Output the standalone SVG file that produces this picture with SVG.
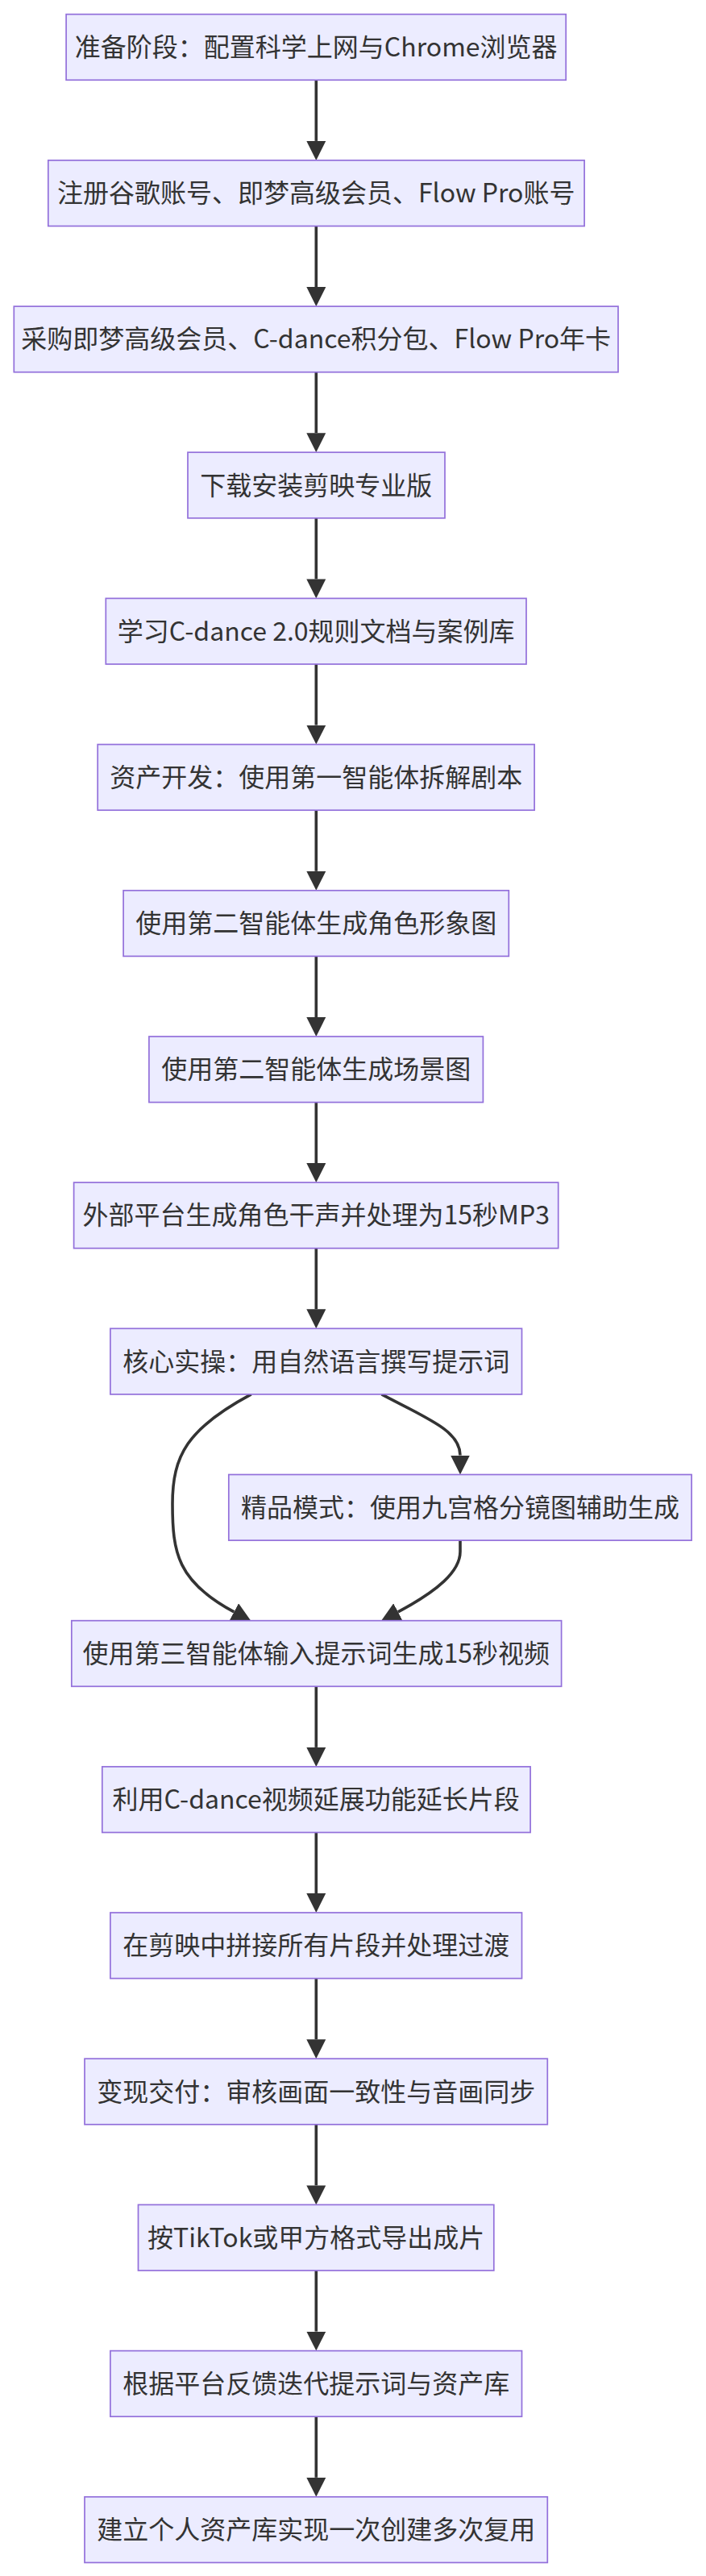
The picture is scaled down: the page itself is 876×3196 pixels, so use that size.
<svg xmlns="http://www.w3.org/2000/svg" width="876" height="3196" viewBox="0 0 876 3196">
<style>
.node rect{fill:#ECECFF;stroke:#9370DB;stroke-width:1.7}
.node text{font-family:"Noto Sans CJK SC","Noto Sans",sans-serif;font-size:32px;fill:#333333;text-anchor:middle}
.edge{fill:none;stroke:#333333;stroke-width:3.6;marker-end:url(#arr)}
</style>
<defs>
<marker id="arr" viewBox="0 0 10 10" refX="0" refY="5" markerWidth="24" markerHeight="24" markerUnits="userSpaceOnUse" orient="auto">
<path d="M0,0 L10,5 L0,10 z" fill="#333333"/>
</marker>
</defs>
<rect width="876" height="3196" fill="#ffffff"/>
<g id="connectors">
<path class="edge" d="M392.3,99.3 V174.9"/>
<path class="edge" d="M392.3,280.5 V356.1"/>
<path class="edge" d="M392.3,461.7 V537.2"/>
<path class="edge" d="M392.3,642.8 V718.4"/>
<path class="edge" d="M392.3,824 V899.6"/>
<path class="edge" d="M392.3,1005.2 V1080.8"/>
<path class="edge" d="M392.3,1186.4 V1262"/>
<path class="edge" d="M392.3,1367.6 V1443.1"/>
<path class="edge" d="M392.3,1548.7 V1624.3"/>
<path class="edge" d="M311.7,1729.9 C232.5,1772.3 214,1806 214,1866 C214,1926 220,1962.3 290.4,1999.9"/>
<path class="edge" d="M473.5,1729.9 C530,1760 571,1775 571,1805.5"/>
<path class="edge" d="M571,1911.1 L571,1925 C571,1950 542.3,1974 493.9,1999.9"/>
<path class="edge" d="M392.3,2092.3 V2167.9"/>
<path class="edge" d="M392.3,2273.5 V2349"/>
<path class="edge" d="M392.3,2454.6 V2530.2"/>
<path class="edge" d="M392.3,2635.8 V2711.4"/>
<path class="edge" d="M392.3,2817 V2892.6"/>
<path class="edge" d="M392.3,2998.2 V3073.8"/>
</g>
<g id="n1" class="node"><rect x="82.1" y="17.7" width="620.1" height="81.6"/><text x="392.2" y="70">准备阶段：配置科学上网与Chrome浏览器</text></g>
<g id="n2" class="node"><rect x="59.8" y="198.9" width="665.3" height="81.6"/><text x="392.2" y="251.2">注册谷歌账号、即梦高级会员、Flow Pro账号</text></g>
<g id="n3" class="node"><rect x="17.3" y="380.1" width="749.7" height="81.6"/><text x="392.2" y="432.4">采购即梦高级会员、C-dance积分包、Flow Pro年卡</text></g>
<g id="n4" class="node"><rect x="233" y="561.2" width="319" height="81.6"/><text x="392.2" y="613.5">下载安装剪映专业版</text></g>
<g id="n5" class="node"><rect x="131.3" y="742.4" width="521.7" height="81.6"/><text x="392.2" y="794.7">学习C-dance 2.0规则文档与案例库</text></g>
<g id="n6" class="node"><rect x="121.2" y="923.6" width="541.9" height="81.6"/><text x="392.2" y="975.9">资产开发：使用第一智能体拆解剧本</text></g>
<g id="n7" class="node"><rect x="153.1" y="1104.8" width="478.2" height="81.6"/><text x="392.2" y="1157.1">使用第二智能体生成角色形象图</text></g>
<g id="n8" class="node"><rect x="184.9" y="1286" width="414.5" height="81.6"/><text x="392.2" y="1338.3">使用第二智能体生成场景图</text></g>
<g id="n9" class="node"><rect x="91.6" y="1467.1" width="601.1" height="81.6"/><text x="392.2" y="1519.4">外部平台生成角色干声并处理为15秒MP3</text></g>
<g id="n10" class="node"><rect x="136.9" y="1648.3" width="510.6" height="81.6"/><text x="392.2" y="1700.6">核心实操：用自然语言撰写提示词</text></g>
<g id="n11" class="node"><rect x="283.8" y="1829.5" width="574.3" height="81.6"/><text x="571" y="1881.8">精品模式：使用九宫格分镜图辅助生成</text></g>
<g id="n12" class="node"><rect x="88.8" y="2010.7" width="607.8" height="81.6"/><text x="392.2" y="2063">使用第三智能体输入提示词生成15秒视频</text></g>
<g id="n13" class="node"><rect x="126.8" y="2191.9" width="531.3" height="81.6"/><text x="392.2" y="2244.2">利用C-dance视频延展功能延长片段</text></g>
<g id="n14" class="node"><rect x="136.9" y="2373" width="510.6" height="81.6"/><text x="392.2" y="2425.3">在剪映中拼接所有片段并处理过渡</text></g>
<g id="n15" class="node"><rect x="105" y="2554.2" width="574.3" height="81.6"/><text x="392.2" y="2606.5">变现交付：审核画面一致性与音画同步</text></g>
<g id="n16" class="node"><rect x="171.5" y="2735.4" width="441.3" height="81.6"/><text x="392.2" y="2787.7">按TikTok或甲方格式导出成片</text></g>
<g id="n17" class="node"><rect x="136.9" y="2916.6" width="510.6" height="81.6"/><text x="392.2" y="2968.9">根据平台反馈迭代提示词与资产库</text></g>
<g id="n18" class="node"><rect x="105" y="3097.8" width="574.3" height="81.6"/><text x="392.2" y="3150.1">建立个人资产库实现一次创建多次复用</text></g>
</svg>
